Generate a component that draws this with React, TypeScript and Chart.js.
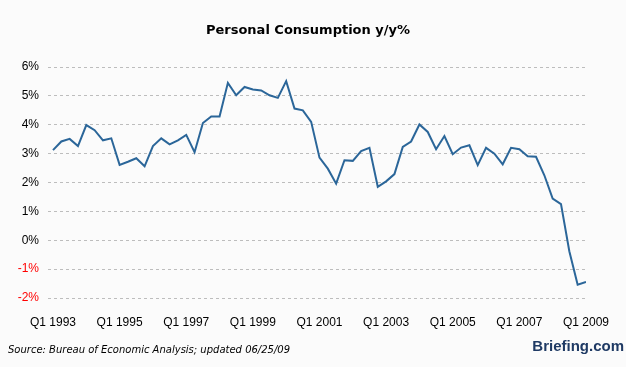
import React, { useEffect, useRef } from "react";
import { Chart, registerables } from "chart.js";

Chart.register(...registerables);

// Quarterly y/y % change, Q1 1993 .. Q1 2009
const values: number[] = [
  3.12, 3.42, 3.51, 3.26, 3.99, 3.81, 3.46, 3.53,
  2.61, 2.72, 2.84, 2.56, 3.26, 3.53, 3.32, 3.46,
  3.65, 3.05, 4.06, 4.29, 4.29, 5.45, 5.02, 5.31,
  5.22, 5.19, 5.02, 4.93, 5.51, 4.56, 4.50, 4.10,
  2.86, 2.48, 1.96, 2.77, 2.75, 3.09, 3.20, 1.85,
  2.04, 2.29, 3.23, 3.42, 4.01, 3.75, 3.15, 3.61,
  2.98, 3.21, 3.29, 2.60, 3.20, 3.00, 2.63, 3.20,
  3.15, 2.91, 2.89, 2.25, 1.44, 1.25, -0.38, -1.54,
  -1.44,
];

const xTickLabels: string[] = [
  "Q1 1993", "Q1 1995", "Q1 1997", "Q1 1999", "Q1 2001",
  "Q1 2003", "Q1 2005", "Q1 2007", "Q1 2009",
];
const xTickStep = 8; // quarters between labels

const yTicks: number[] = [-2, -1, 0, 1, 2, 3, 4, 5, 6];

const titleText = "Personal Consumption y/y%";
const sourceText = "Source: Bureau of Economic Analysis; updated 06/25/09";
const brandText = "Briefing.com";

export default function App() {
  const ref = useRef<HTMLCanvasElement | null>(null);

  useEffect(() => {
    if (!ref.current) return;
    const chart = new Chart(ref.current, {
      type: "line",
      data: {
        datasets: [
          {
            data: values.map((v, i) => ({ x: i, y: v })),
            borderColor: "#2b6699",
            borderWidth: 2,
            pointRadius: 0,
            tension: 0,
            fill: false,
          },
        ],
      },
      options: {
        animation: false,
        responsive: false,
        maintainAspectRatio: false,
        layout: { padding: { left: 0, right: 34, top: 67, bottom: 0 } },
        plugins: { legend: { display: false }, tooltip: { enabled: false }, title: { display: false } },
        scales: {
          x: {
            type: "linear",
            min: -0.6,
            max: 64,
            grid: { display: false, drawTicks: false },
            border: { display: false },
            afterBuildTicks: (scale: any) => {
              scale.ticks = xTickLabels.map((_, i) => ({ value: i * xTickStep }));
            },
            afterFit: (scale: any) => {
              scale.height = 69;
            },
            ticks: {
              autoSkip: false,
              maxRotation: 0,
              padding: 17,
              color: "#000",
              font: { family: "Liberation Sans", size: 12 },
              callback: (v: any) => xTickLabels[Math.round(Number(v) / xTickStep)] ?? "",
            },
          },
          y: {
            min: yTicks[0],
            max: yTicks[yTicks.length - 1],
            afterBuildTicks: (scale: any) => {
              scale.ticks = yTicks.map((v) => ({ value: v }));
            },
            afterFit: (scale: any) => {
              scale.width = 48;
            },
            grid: { color: "#bdbdbd", lineWidth: 1, drawTicks: false },
            border: { display: false, dash: [3, 3] },
            ticks: {
              padding: 9,
              font: { family: "Liberation Sans", size: 12 },
              color: (ctx: any) => (ctx.tick && ctx.tick.value < 0 ? "#ff0000" : "#000000"),
              callback: (v: any) => `${v}%`,
            },
          },
        },
      },
    } as any);
    return () => chart.destroy();
  }, []);

  return (
    <div
      style={{
        position: "fixed",
        left: 0,
        top: 0,
        width: 626,
        height: 367,
        background: "#fbfbfb",
        overflow: "hidden",
      }}
    >
      <canvas ref={ref} width={626} height={367} style={{ position: "absolute", left: 0, top: 0 }} />
      <div
        style={{
          position: "absolute",
          left: 0,
          width: 616,
          top: 22,
          textAlign: "center",
          fontFamily: "DejaVu Sans",
          fontWeight: "bold",
          fontSize: 13,
          lineHeight: "16px",
          color: "#000",
        }}
      >
        {titleText}
      </div>
      <div
        style={{
          position: "absolute",
          left: 8,
          top: 343,
          fontFamily: "DejaVu Sans",
          fontStyle: "italic",
          fontSize: 10,
          lineHeight: "14px",
          color: "#000",
          whiteSpace: "nowrap",
        }}
      >
        {sourceText}
      </div>
      <div
        style={{
          position: "absolute",
          right: 2,
          top: 336,
          fontFamily: "Liberation Sans",
          fontWeight: "bold",
          fontSize: 15,
          lineHeight: "20px",
          color: "#1f3a64",
          whiteSpace: "nowrap",
        }}
      >
        {brandText}
      </div>
    </div>
  );
}
